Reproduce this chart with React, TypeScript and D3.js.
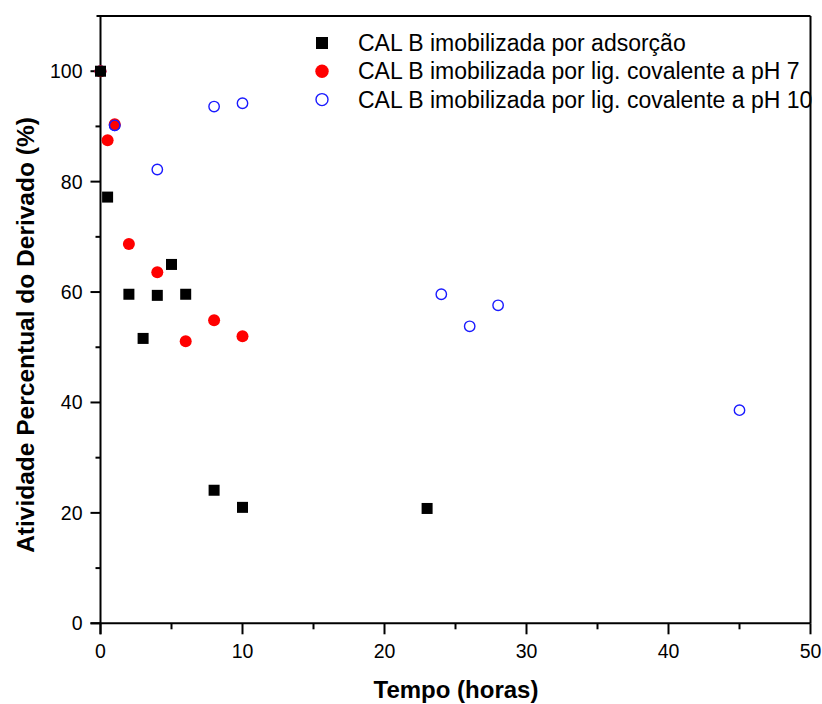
import React from "react";
import * as d3 from "d3";

const adsX = [0, 0.5, 2, 3, 4, 5, 6, 8, 10, 23];
const adsY = [100, 77.2, 59.6, 51.6, 59.4, 65.0, 59.6, 24.1, 21.0, 20.8];
const ph7X = [0, 0.5, 1, 2, 4, 6, 8, 10];
const ph7Y = [100, 87.5, 90.4, 68.7, 63.6, 51.1, 54.9, 52.0];
const ph10X = [0, 1, 4, 8, 10, 24, 26, 28, 45];
const ph10Y = [100, 90.2, 82.2, 93.6, 94.2, 59.6, 53.8, 57.6, 38.6];
const xTicks = [0, 10, 20, 30, 40, 50];
const yTicks = [0, 20, 40, 60, 80, 100];
const legendLabels = [
  "CAL B imobilizada por adsorção",
  "CAL B imobilizada por lig. covalente a pH 7",
  "CAL B imobilizada por lig. covalente a pH 10",
];

export default function App() {
  const W = 822, H = 704;
  const x = d3.scaleLinear().domain([0, 50]).range([100.5, 810.5]);
  const y = d3.scaleLinear().domain([0, 110]).range([623.3, 16]);
  const font = "Liberation Sans, Arial, sans-serif";
  const xMinor = d3.range(5, 50, 10);
  const yMinor = d3.range(10, 110, 20);
  const zip = (a: number[], b: number[]) => a.map((v, i) => [v, b[i]]);
  const blue = "#1a1aff";
  return (
    <svg width={W} height={H} style={{ position: "absolute", left: 0, top: 0, background: "#fff" }}>
      <rect width={W} height={H} fill="#fff" />
      {/* frame */}
      <line x1={x(0) - 4} x2={x(50)} y1={y(110)} y2={y(110)} stroke="#000" strokeWidth={2} />
      <line x1={x(50)} x2={x(50)} y1={y(110)} y2={y(0)} stroke="#000" strokeWidth={2} />
      <line x1={x(0) - 10} x2={x(50)} y1={y(0)} y2={y(0)} stroke="#000" strokeWidth={2} />
      <line x1={x(0)} x2={x(0)} y1={y(110)} y2={y(0) + 11} stroke="#000" strokeWidth={2} />
      {/* x ticks */}
      {xTicks.map((t) => (
        <g key={"xt" + t}>
          <line x1={x(t)} x2={x(t)} y1={y(0)} y2={y(0) + 11} stroke="#000" strokeWidth={2} />
          <text x={x(t)} y={y(0) + 35} fontFamily={font} fontSize={19.5} textAnchor="middle">{t}</text>
        </g>
      ))}
      {xMinor.map((t) => (
        <line key={"xm" + t} x1={x(t)} x2={x(t)} y1={y(0)} y2={y(0) + 6} stroke="#000" strokeWidth={2} />
      ))}
      {yTicks.map((t) => (
        <g key={"yt" + t}>
          <line x1={x(0) - 10} x2={x(0)} y1={y(t)} y2={y(t)} stroke="#000" strokeWidth={2} />
          <text x={x(0) - 18} y={y(t) + 7} fontFamily={font} fontSize={19.5} textAnchor="end">{t}</text>
        </g>
      ))}
      {yMinor.map((t) => (
        <line key={"ym" + t} x1={x(0) - 5} x2={x(0)} y1={y(t)} y2={y(t)} stroke="#000" strokeWidth={2} />
      ))}
      {/* axis titles */}
      <text x={456} y={698} fontFamily={font} fontSize={24} fontWeight="bold" textAnchor="middle">Tempo (horas)</text>
      <text transform={`translate(34,335) rotate(-90)`} fontFamily={font} fontSize={24.5} fontWeight="bold" textAnchor="middle">Atividade Percentual do Derivado (%)</text>
      {/* series: pH 10 (open blue) */}
      {zip(ph10X, ph10Y).map(([a, b], i) => (
        <circle key={"b" + i} cx={x(a)} cy={y(b)} r={5.2} fill="none" stroke={blue} strokeWidth={1.4} />
      ))}
      {/* pH 7 red */}
      {zip(ph7X, ph7Y).map(([a, b], i) => (
        <circle key={"r" + i} cx={x(a)} cy={y(b)} r={6} fill="#ff0000" />
      ))}
      {zip(ph10X, ph10Y).filter(([a]) => a === 1).map(([a, b], i) => (
        <circle key={"bo" + i} cx={x(a)} cy={y(b)} r={5.2} fill="none" stroke={blue} strokeWidth={1.4} />
      ))}
      {/* adsorption squares */}
      {zip(adsX, adsY).map(([a, b], i) => (
        <rect key={"s" + i} x={x(a) - 5.5} y={y(b) - 5.5} width={11} height={11} fill="#000" />
      ))}
      {/* legend */}
      {legendLabels.map((lab, i) => {
        const ly = 43 + i * 28.3;
        return (
          <g key={"lg" + i}>
            {i === 0 && <rect x={322 - 6} y={ly - 6} width={12} height={12} fill="#000" />}
            {i === 1 && <circle cx={322} cy={ly} r={6.7} fill="#ff0000" />}
            {i === 2 && <circle cx={322} cy={ly} r={6} fill="none" stroke={blue} strokeWidth={1.4} />}
            <text x={358} y={ly + 8} fontFamily={font} fontSize={23}>{lab}</text>
          </g>
        );
      })}
    </svg>
  );
}
